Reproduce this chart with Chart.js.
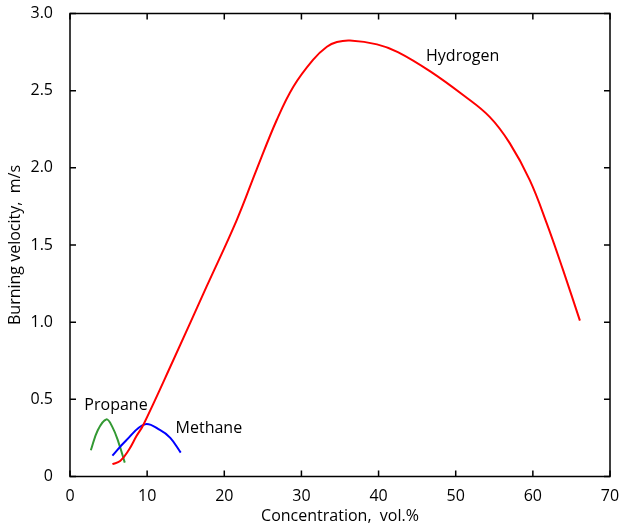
<!DOCTYPE html>
<html>
<head>
<meta charset="utf-8">
<script src="https://cdn.jsdelivr.net/npm/chart.js@4/dist/chart.umd.min.js"></script>
<style>
  html, body { margin: 0; padding: 0; background: #fff; }
  #wrap { width: 621px; height: 526px; }
</style>
</head>
<body>
<div id="wrap"><canvas id="myChart" width="621" height="526"></canvas></div>
<script>
// data
const hydrogenX = [5.5, 6.5, 7.6, 8.6, 9.5, 13.4, 17.7, 21.6, 24.2, 26.8, 28.95, 31.5, 33.3, 34.6, 36.3, 39.8, 42.5, 46.7, 51.0, 54.4, 57.0, 59.6, 61.8, 63.9, 66.1];
const hydrogenY = [0.08, 0.10, 0.17, 0.26, 0.334, 0.755, 1.23, 1.66, 1.99, 2.31, 2.526, 2.70, 2.785, 2.815, 2.825, 2.80, 2.75, 2.625, 2.47, 2.33, 2.16, 1.92, 1.64, 1.34, 1.01];
const methaneX = [5.5, 7.3, 9.7, 11.7, 13.0, 14.35];
const methaneY = [0.135, 0.235, 0.338, 0.30, 0.25, 0.155];
const propaneX = [2.7, 3.6, 4.7, 5.5, 6.3, 7.1];
const propaneY = [0.17, 0.30, 0.37, 0.32, 0.22, 0.09];

const xTicks = [0, 10, 20, 30, 40, 50, 60, 70];
const yTicks = [0, 0.5, 1.0, 1.5, 2.0, 2.5, 3.0];

const seriesLabels = [
    { text: "Hydrogen", x: 50.9, y: 2.72 },
    { text: "Propane", x: 5.96, y: 0.463 },
    { text: "Methane", x: 18.0, y: 0.314 },
];

const FONT = "'Open Sans', 'Noto Sans', sans-serif";

function pts(xs, ys) {
    return xs.map(function (x, i) { return { x: x, y: ys[i] }; });
}

// inward ticks on all four sides + the top/right frame
const frameTicks = {
    id: "frameTicks",
    afterDraw: function (chart) {
        const c = chart.ctx;
        const a = chart.chartArea;
        const xs = chart.scales.x;
        const ys = chart.scales.y;
        const len = 6;
        c.save();
        c.strokeStyle = "#000";
        c.lineWidth = 1.5;
        c.strokeRect(a.left, a.top, a.right - a.left, a.bottom - a.top);
        c.beginPath();
        xTicks.forEach(function (v) {
            const px = xs.getPixelForValue(v);
            c.moveTo(px, a.bottom); c.lineTo(px, a.bottom - len);
            c.moveTo(px, a.top); c.lineTo(px, a.top + len);
        });
        yTicks.forEach(function (v) {
            const py = ys.getPixelForValue(v);
            c.moveTo(a.left, py); c.lineTo(a.left + len, py);
            c.moveTo(a.right, py); c.lineTo(a.right - len, py);
        });
        c.stroke();
        c.fillStyle = "#000";
        c.font = "16px " + FONT;
        c.textAlign = "center";
        c.textBaseline = "middle";
        seriesLabels.forEach(function (l) {
            c.fillText(l.text, xs.getPixelForValue(l.x), ys.getPixelForValue(l.y));
        });
        c.restore();
    },
};

document.addEventListener("DOMContentLoaded", function () {
    const ctx = document.getElementById("myChart").getContext("2d");
    new Chart(ctx, {
        type: "line",
        data: {
            datasets: [
                {
                    label: "Hydrogen",
                    data: pts(hydrogenX, hydrogenY),
                    borderColor: "#ff0000",
                    borderWidth: 2,
                    pointRadius: 0,
                    tension: 0.4,
                },
                {
                    label: "Methane",
                    data: pts(methaneX, methaneY),
                    borderColor: "#0000ff",
                    borderWidth: 2,
                    pointRadius: 0,
                    tension: 0.4,
                },
                {
                    label: "Propane",
                    data: pts(propaneX, propaneY),
                    borderColor: "#339933",
                    borderWidth: 2,
                    pointRadius: 0,
                    tension: 0.4,
                },
            ],
        },
        options: {
            responsive: false,
            animation: false,
            layout: { padding: { left: 0, right: 11, top: 13.5, bottom: 0 } },
            scales: {
                x: {
                    type: "linear",
                    min: 0,
                    max: 70,
                    afterBuildTicks: function (s) { s.ticks = xTicks.map(function (v) { return { value: v }; }); },
                    afterFit: function (s) {
                        s.height = 49.5;
                        s.paddingLeft = 0;
                        s.paddingRight = 0;
                    },
                    grid: { display: false },
                    border: { display: false },
                    ticks: { color: "#000", font: { family: FONT, size: 16 }, padding: 2 },
                    title: {
                        display: true,
                        text: "Concentration,  vol.%",
                        color: "#000",
                        font: { family: FONT, size: 16 },
                        padding: { top: 2, bottom: 0 },
                    },
                },
                y: {
                    type: "linear",
                    min: 0,
                    max: 3,
                    afterBuildTicks: function (s) { s.ticks = yTicks.map(function (v) { return { value: v }; }); },
                    afterFit: function (s) {
                        s.width = 70;
                        s.paddingTop = 0;
                        s.paddingBottom = 0;
                    },
                    grid: { display: false },
                    border: { display: false },
                    ticks: {
                        color: "#000",
                        font: { family: FONT, size: 16 },
                        padding: 9,
                        callback: function (v) { return v === 0 ? "0" : v.toFixed(1); },
                    },
                    title: {
                        display: true,
                        text: "Burning velocity,  m/s",
                        color: "#000",
                        font: { family: FONT, size: 16 },
                        padding: { top: 6, bottom: 0 },
                    },
                },
            },
            plugins: {
                legend: { display: false },
                tooltip: { enabled: false },
            },
        },
        plugins: [frameTicks],
    });
});
</script>
</body>
</html>
